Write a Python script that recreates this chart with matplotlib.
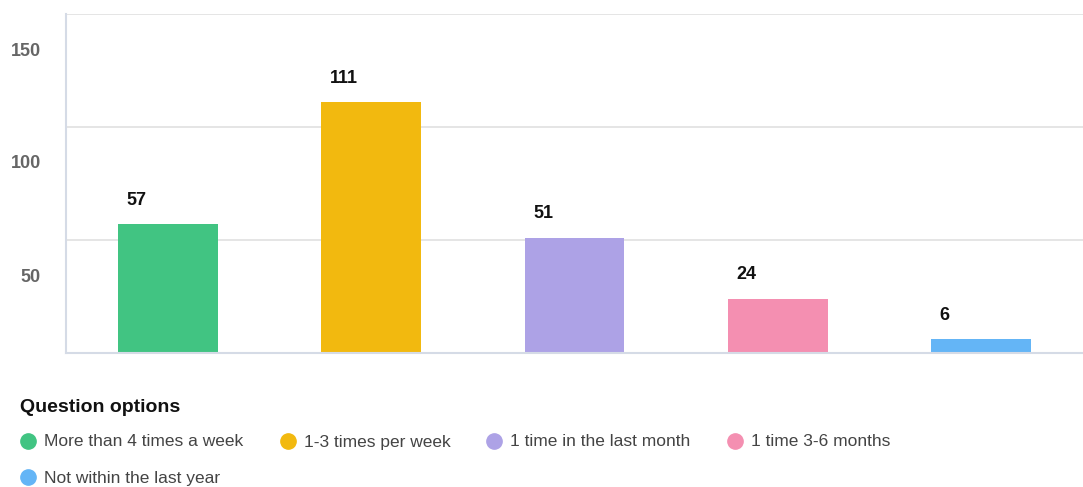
import matplotlib.pyplot as plt
from matplotlib.lines import Line2D
from matplotlib.transforms import ScaledTranslation

plt.rcParams['font.family'] = ['Liberation Sans', 'DejaVu Sans']

# Данные
categories = ["More than 4 times a week", "1-3 times per week",
              "1 time in the last month", "1 time 3-6 months",
              "Not within the last year"]
counts = [57, 111, 51, 24, 6]
colors = ["#41c482", "#f2b90f", "#ada2e6", "#f48fb1", "#64b5f6"]
y_ticks = [50, 100, 150]

W, H = 1083, 487
fig = plt.figure(figsize=(W / 100, H / 100), dpi=100)
ax = fig.add_axes([66 / W, 1 - 353 / H, (W - 66) / W, (353 - 14) / H])

x = list(range(len(categories)))
bars = ax.bar(x, counts, width=0.49, color=colors, zorder=2)
ax.set_xlim(-0.5, len(categories) - 0.5)
ax.set_ylim(0, 150)

# Подписи значений над столбцами
for b, v in zip(bars, counts):
    ax.annotate(str(v), (b.get_x(), v), xytext=(6, 11), textcoords="offset points",
                ha="left", va="bottom", fontsize=13, fontweight="bold", color="#111")

ax.set_xticks([])
ax.set_yticks(y_ticks)
ax.set_yticklabels([str(t) for t in y_ticks], fontsize=13, fontweight="bold", color="#666")
ax.tick_params(axis="y", length=0, pad=18)
shift = ScaledTranslation(0, -0.35, fig.dpi_scale_trans)
for lbl in ax.get_yticklabels():
    lbl.set_transform(lbl.get_transform() + shift)

ax.grid(axis="y", color="#e3e3e3", linewidth=1.3, zorder=0)
for side in ["top", "right"]:
    ax.spines[side].set_visible(False)
ax.spines["left"].set_color("#d5dbe6")
ax.spines["bottom"].set_color("#d5dbe6")
ax.spines["left"].set_linewidth(1.5)
ax.spines["bottom"].set_linewidth(1.5)

# Легенда вручную
fig.text(20 / W, 1 - 408 / H, "Question options", fontsize=14, fontweight="bold",
         color="#111", va="center", ha="left")
leg_pos = [(28, 441), (288, 441), (494, 441), (735, 441), (28, 477)]
for (px, py), name, c in zip(leg_pos, categories, colors):
    fig.add_artist(Line2D([px / W], [1 - py / H], marker="o", markersize=11,
                          color=c, linestyle="none", transform=fig.transFigure))
    fig.text((px + 16) / W, 1 - (py + 1) / H, name, fontsize=12.5, color="#444",
             va="center", ha="left")

fig.savefig("out.png", dpi=100)
